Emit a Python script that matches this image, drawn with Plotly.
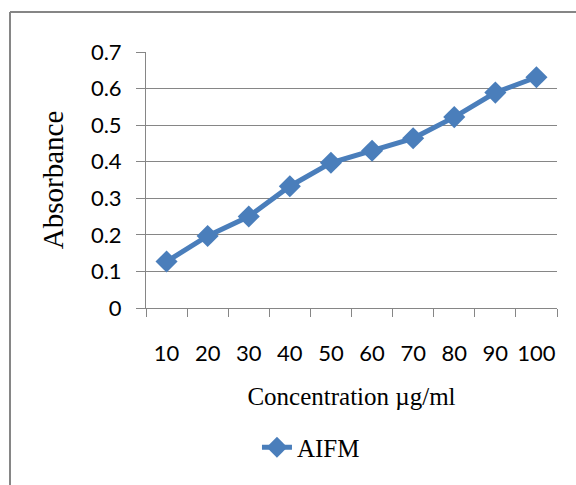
import plotly.graph_objects as go

concentrations = ["10", "20", "30", "40", "50", "60", "70", "80", "90", "100"]
absorbance = [0.127, 0.197, 0.250, 0.333, 0.397, 0.430, 0.464, 0.522, 0.589, 0.631]
series_name = "AIFM"
y_ticks = [0, 0.1, 0.2, 0.3, 0.4, 0.5, 0.6, 0.7]
y_tick_labels = ["0", "0.1", "0.2", "0.3", "0.4", "0.5", "0.6", "0.7"]

blue = "#4A7EBB"
gray = "#868686"

fig = go.Figure()
fig.add_trace(go.Scatter(
    x=concentrations, y=absorbance, name=series_name,
    mode="lines+markers",
    line=dict(color=blue, width=5),
    marker=dict(symbol="diamond", size=17, color=blue),
))

fig.update_layout(
    width=576, height=485,
    margin=dict(l=146, r=19, t=52, b=177),
    paper_bgcolor="white", plot_bgcolor="white",
    showlegend=True,
    legend=dict(orientation="h", x=0.27, xanchor="left", y=-0.545, yanchor="middle",
                font=dict(family="Liberation Serif", size=25, color="black"),
                itemwidth=30),
    xaxis=dict(
        type="category",
        range=[-0.5, 9.5],
        showline=True, linecolor=gray, linewidth=1,
        ticks="outside", ticklen=8, tickcolor=gray, tickson="boundaries",
        showgrid=False,
        tickangle=0,
        tickfont=dict(family="Lato", size=22, color="black"),
        ticklabelstandoff=26,
        title=dict(text="Concentration µg/ml", standoff=22,
                   font=dict(family="Liberation Serif", size=25, color="black")),
    ),
    yaxis=dict(
        range=[0, 0.7],
        tickvals=y_ticks, ticktext=y_tick_labels,
        showline=True, linecolor=gray, linewidth=1,
        ticks="outside", ticklen=9, tickcolor=gray,
        showgrid=True, gridcolor=gray, gridwidth=1,
        zeroline=False,
        ticklabelstandoff=10,
        tickfont=dict(family="Lato", size=22, color="black"),
        title=dict(text="Absorbance", standoff=18,
                   font=dict(family="Liberation Serif", size=29, color="black")),
    ),
    shapes=[
        dict(type="line", xref="paper", yref="paper", x0=-136/411, x1=1.1,
             y0=40/256 + 1, y1=40/256 + 1, line=dict(color=gray, width=2)),
        dict(type="line", xref="paper", yref="paper", x0=-136/411, x1=-136/411,
             y0=40/256 + 1, y1=-0.75, line=dict(color=gray, width=2)),
    ],
)

fig.write_html("out.html")
